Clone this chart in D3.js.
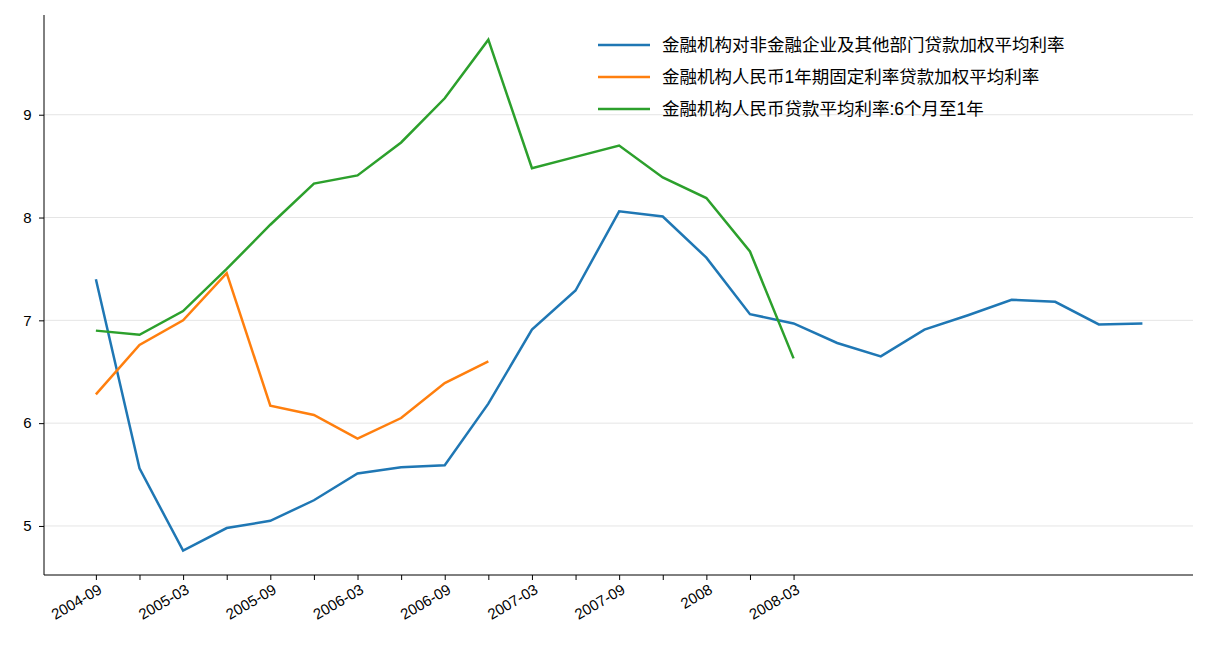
<!DOCTYPE html>
<html><head><meta charset="utf-8">
<script src="https://cdn.jsdelivr.net/npm/d3@7"></script>
<style>body{margin:0;background:#fff}text{font-family:"Liberation Sans","Noto Sans CJK SC",sans-serif}</style>
</head><body><svg id="c" width="1208" height="672"></svg>
<script>
const seriesNames=["金融机构对非金融企业及其他部门贷款加权平均利率","金融机构人民币1年期固定利率贷款加权平均利率","金融机构人民币贷款平均利率:6个月至1年"];
const blue=[7.40,5.56,4.76,4.98,5.05,5.25,5.51,5.57,5.59,6.19,6.91,7.29,8.06,8.01,7.61,7.06,6.97,6.78,6.65,6.91,7.05,7.20,7.18,6.96,6.97];
const orange=[6.28,6.76,7.00,7.46,6.17,6.08,5.85,6.05,6.39,6.60];
const green=[6.90,6.86,7.09,7.50,7.93,8.33,8.41,8.73,9.16,9.73,8.48,8.59,8.70,8.39,8.19,7.67,6.63];
const tickLabels=["2004-09","","2005-03","","2005-09","","2006-03","","2006-09","","2007-03","","2007-09","","2008","","2008-03"];
const yTicks=[5,6,7,8,9];
const colors=["#1f77b4","#ff7f0e","#2ca02c"];
const svg=d3.select("#c");
const L=44,R=1193,T=15,B=575;
const x=d3.scaleLinear().domain([-1.19,25.16]).range([L,R]);
const y=d3.scaleLinear().domain([4.523,9.97]).range([B,T]);
svg.append("g").selectAll("line").data(yTicks).join("line")
 .attr("x1",L).attr("x2",R).attr("y1",d=>y(d)).attr("y2",d=>y(d)).attr("stroke","#e5e5e5").attr("stroke-width",1);
const xa=svg.append("g").attr("transform",`translate(0,${B})`)
 .call(d3.axisBottom(x).tickValues(d3.range(tickLabels.length)).tickFormat(i=>tickLabels[i]).tickSize(5).tickSizeOuter(0));
xa.selectAll("text").style("font-size","15px").attr("fill","#000").attr("text-anchor","end")
 .attr("transform","rotate(-30)").attr("dx","-0.2em").attr("dy","0.7em");
const ya=svg.append("g").attr("transform",`translate(${L},0)`).call(d3.axisLeft(y).tickValues(yTicks).tickFormat(d3.format("d")).tickSize(5).tickSizeOuter(0));
ya.selectAll("text").style("font-size","15px").attr("fill","#000").attr("dx","-0.3em");
[xa,ya].forEach(a=>{a.select(".domain").attr("stroke","#000");a.selectAll("line").attr("stroke","#000");});
xa.select(".domain").attr("d",`M${L},0H${R}`);
ya.select(".domain").attr("d",`M0,${B}V${T}`);
const line=d3.line().x((d,i)=>x(i)).y(d=>y(d));
[blue,orange,green].forEach((s,k)=>svg.append("path").datum(s).attr("d",line).attr("fill","none").attr("stroke",colors[k]).attr("stroke-width",2.5));
const lg=svg.append("g").attr("transform","translate(598,45)");
seriesNames.forEach((n,i)=>{
 const g=lg.append("g").attr("transform",`translate(0,${i*32})`);
 g.append("line").attr("x1",0).attr("x2",52).attr("stroke",colors[i]).attr("stroke-width",2.5);
 g.append("text").attr("x",64).attr("y",6).style("font-size","17.5px").text(n);
});
</script></body></html>
